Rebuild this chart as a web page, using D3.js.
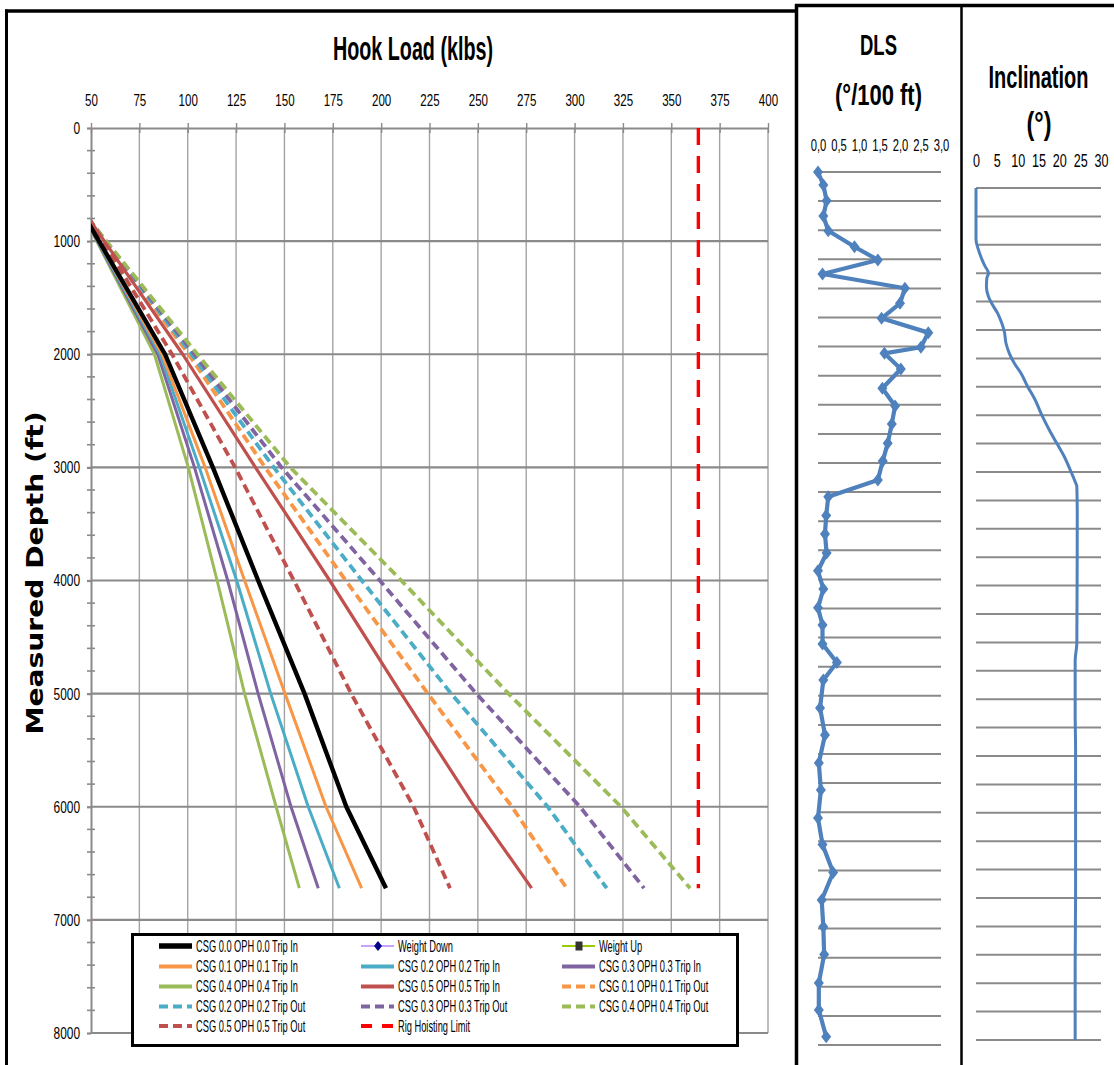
<!DOCTYPE html>
<html>
<head>
<meta charset="utf-8">
<script src="https://cdn.jsdelivr.net/npm/d3@7"></script>
<style>
  body { margin: 0; background: #fff; }
  svg { display: block; }
</style>
</head>
<body>
<div id="chart"></div>
<script>
// ---- hook load vs depth (klbs, ft) ----
const hookDepth = [800, 2000, 3000, 4000, 5000, 6000, 6720];
const csg00In  = [47.3, 88.3, 113.0, 136.4, 160.4, 182.0, 202.5];
const csg01In  = [47.2, 86.7, 109.0, 129.4, 150.3, 171.5, 189.9];
const csg02In  = [47.1, 85.7, 106.0, 125.3, 142.9, 162.3, 178.4];
const csg03In  = [47.0, 84.5, 103.5, 120.7, 136.4, 153.4, 167.5];
const csg04In  = [47.0, 82.8, 100.3, 115.2, 129.4, 145.7, 157.7];
const csg05In  = [48.8, 97.4, 135.0, 173.4, 210.4, 248.2, 277.8];
const csg01Out = [48.7, 100.5, 140.0, 181.7, 224.2, 267.6, 295.9];
const csg02Out = [48.6, 102.0, 144.5, 190.0, 236.2, 286.1, 316.6];
const csg03Out = [48.6, 103.5, 148.5, 199.3, 249.2, 302.8, 335.9];
const csg04Out = [48.5, 105.0, 153.0, 210.4, 265.8, 324.0, 359.7];
const csg05Out = [49.0, 91.9, 124.5, 154.9, 184.5, 216.8, 235.6];
const rigLimitDepth = [0, 6720];
const rigLimitLoad = [364, 364];

const hookTicks = [50, 75, 100, 125, 150, 175, 200, 225, 250, 275, 300, 325, 350, 375, 400];
const depthTicks = [0, 1000, 2000, 3000, 4000, 5000, 6000, 7000, 8000];

// ---- DLS survey (ft, deg/100ft) ----
const dlsDepth = [0, 100, 222, 340, 454, 578, 680, 789, 899, 1015, 1131, 1242, 1355, 1402, 1523,
  1672, 1809, 1948, 2098, 2234, 2381, 2511, 2656, 2799, 2946, 3083, 3224, 3370, 3503, 3649,
  3792, 3928, 4144, 4353, 4569, 4778, 4995, 5200, 5416, 5629, 5836, 6051, 6270, 6479, 6686];
const dlsValue = [0.0, 0.13, 0.21, 0.13, 0.25, 0.89, 1.46, 0.11, 2.12, 2.0, 1.55, 2.69, 2.51, 1.62, 2.02,
  1.57, 1.88, 1.80, 1.70, 1.58, 1.46, 0.25, 0.20, 0.17, 0.21, 0.0, 0.13, 0.0, 0.11, 0.11,
  0.46, 0.13, 0.05, 0.17, 0.02, 0.07, 0.0, 0.11, 0.37, 0.09, 0.13, 0.15, 0.02, 0.02, 0.20];
const dlsTicks = [0, 0.5, 1, 1.5, 2, 2.5, 3];

// ---- inclination (ft, deg) ----
const incDepth = [0, 410, 490, 610, 676, 715, 782, 861, 927, 993, 1072, 1138, 1230, 1310, 1389,
  1468, 1574, 1666, 1799, 1917, 2023, 2129, 2248, 2327, 2367, 2583, 3605, 3745, 4167, 4453,
  5586, 6148, 6750];
const incValue = [0, 0, 0.6, 2.0, 3.0, 2.6, 2.5, 3.0, 4.0, 5.2, 6.2, 6.8, 7.2, 8.0, 9.2,
  10.8, 12.4, 14.0, 15.8, 17.6, 19.4, 21.2, 22.8, 23.8, 24.2, 24.3, 24.2, 23.8, 23.8, 23.9,
  23.9, 23.8, 23.8];
const incTicks = [0, 5, 10, 15, 20, 25, 30];
const surveyGridDepth = d3.range(0, 6751, 225);

const FONT = "'Liberation Sans', Arial, sans-serif";

const svg = d3.select("#chart").append("svg")
  .attr("width", 1114)
  .attr("height", 1065);

// squeezed text helper (the source image is stretched vertically)
function label(g, x, y, str, size, anchor, sx, weight) {
  return g.append("text")
    .attr("transform", `translate(${x},${y}) scale(${sx},1)`)
    .attr("text-anchor", anchor)
    .style("font-family", FONT)
    .style("font-size", size + "px")
    .style("font-weight", weight || "normal")
    .style("fill", "#000")
    .text(str);
}

// bold title squeezed to a measured width
function title(g, x, y, str, size, len) {
  const t = g.append("text")
    .attr("text-anchor", "middle")
    .style("font-family", FONT)
    .style("font-size", size + "px")
    .style("font-weight", "bold")
    .style("fill", "#000")
    .text(str);
  const natural = t.node().getComputedTextLength() || len;
  t.attr("transform", `translate(${x},${y}) scale(${len / natural},1)`);
  return t;
}

// ================= Hook load chart =================
const plot = { left: 91, right: 768, top: 128, bottom: 1033 };
const x = d3.scaleLinear().domain([50, 400]).range([plot.left, plot.right]);
const y = d3.scaleLinear().domain([0, 8000]).range([plot.top, plot.bottom]);

const main = svg.append("g");

main.append("g").selectAll("line")
  .data(hookTicks.slice(1))
  .enter().append("line")
  .attr("x1", d => x(d)).attr("x2", d => x(d))
  .attr("y1", plot.top).attr("y2", plot.bottom)
  .style("stroke", "#a3a3a3")
  .style("stroke-width", 1.4);

main.append("g").selectAll("line")
  .data(depthTicks.slice(1))
  .enter().append("line")
  .attr("x1", plot.left).attr("x2", plot.right)
  .attr("y1", d => y(d)).attr("y2", d => y(d))
  .style("stroke", "#8a8a8a")
  .style("stroke-width", 2.2);

const xAxis = main.append("g")
  .attr("transform", `translate(0,${plot.top})`)
  .call(d3.axisTop(x).tickValues(hookTicks).tickSize(5).tickSizeOuter(0).tickPadding(17));
xAxis.select(".domain").style("stroke", "#8a8a8a").style("stroke-width", 2.2);
xAxis.selectAll(".tick line").style("stroke", "#8a8a8a").style("stroke-width", 1.4)
  .attr("y2", -5).attr("y1", 5);
xAxis.selectAll("text")
  .attr("transform", "scale(0.68,1)")
  .style("font-family", FONT).style("font-size", "17px").style("fill", "#000");

const yAxis = main.append("g")
  .attr("transform", `translate(${plot.left},0)`)
  .call(d3.axisLeft(y).tickValues(depthTicks).tickSize(4).tickSizeOuter(0)
    .tickFormat(d3.format("d")));
yAxis.select(".domain").style("stroke", "#8a8a8a").style("stroke-width", 2);
yAxis.selectAll(".tick line").style("stroke", "#8a8a8a").style("stroke-width", 2.2);
yAxis.selectAll("text")
  .attr("x", -11 / 0.7)
  .attr("transform", "scale(0.7,1)")
  .style("font-family", FONT).style("font-size", "17px").style("fill", "#000");

main.append("g").selectAll("line")
  .data(d3.range(200, 8000, 200).filter(d => d % 1000 !== 0))
  .enter().append("line")
  .attr("x1", plot.left - 4).attr("x2", plot.left + 4)
  .attr("y1", d => y(d)).attr("y2", d => y(d))
  .style("stroke", "#8a8a8a")
  .style("stroke-width", 1.6);

title(main, 413, 60, "Hook Load (klbs)", 34, 160);

main.append("text")
  .attr("transform", "translate(43,573) rotate(-90)")
  .attr("text-anchor", "middle")
  .attr("textLength", 323)
  .attr("lengthAdjust", "spacingAndGlyphs")
  .style("font-family", "'DejaVu Sans', Verdana, sans-serif")
  .style("font-size", "23px")
  .style("font-weight", "bold")
  .text("Measured Depth (ft)");

const series = [
  { name: "CSG 0.0 OPH 0.0 Trip In",  values: csg00In,  color: "#000000", dash: null,  width: 4.4 },
  { name: "CSG 0.1 OPH 0.1 Trip In",  values: csg01In,  color: "#f79646", dash: null,  width: 3 },
  { name: "CSG 0.2 OPH 0.2 Trip In",  values: csg02In,  color: "#4bacc6", dash: null,  width: 3 },
  { name: "CSG 0.3 OPH 0.3 Trip In",  values: csg03In,  color: "#8064a2", dash: null,  width: 3 },
  { name: "CSG 0.4 OPH 0.4 Trip In",  values: csg04In,  color: "#9bbb59", dash: null,  width: 3 },
  { name: "CSG 0.5 OPH 0.5 Trip In",  values: csg05In,  color: "#c0504d", dash: null,  width: 3.2 },
  { name: "CSG 0.1 OPH 0.1 Trip Out", values: csg01Out, color: "#f79646", dash: "9,5", width: 3.8 },
  { name: "CSG 0.2 OPH 0.2 Trip Out", values: csg02Out, color: "#4bacc6", dash: "9,5", width: 3.8 },
  { name: "CSG 0.3 OPH 0.3 Trip Out", values: csg03Out, color: "#8064a2", dash: "9,5", width: 3.8 },
  { name: "CSG 0.4 OPH 0.4 Trip Out", values: csg04Out, color: "#9bbb59", dash: "9,5", width: 3.8 },
  { name: "CSG 0.5 OPH 0.5 Trip Out", values: csg05Out, color: "#c0504d", dash: "9,5", width: 3.8 }
];

svg.append("clipPath").attr("id", "plot-clip")
  .append("rect")
  .attr("x", plot.left).attr("y", plot.top)
  .attr("width", plot.right - plot.left).attr("height", plot.bottom - plot.top);

const hookLine = d3.line().x(d => x(d.v)).y(d => y(d.d));
const lineGroup = main.append("g").attr("clip-path", "url(#plot-clip)");

// trip-out first, then solid ones, black on top
const drawOrder = [6, 7, 8, 9, 10, 5, 4, 3, 2, 1, 0];
drawOrder.forEach(i => {
  const s = series[i];
  lineGroup.append("path")
    .datum(hookDepth.map((d, j) => ({ d: d, v: s.values[j] })))
    .attr("d", hookLine)
    .style("fill", "none")
    .style("stroke", s.color)
    .style("stroke-width", s.width)
    .style("stroke-dasharray", s.dash)
    .style("stroke-linejoin", "round");
});

lineGroup.append("path")
  .datum(rigLimitDepth.map((d, j) => ({ d: d, v: rigLimitLoad[j] })))
  .attr("d", hookLine)
  .style("fill", "none")
  .style("stroke", "#ff0000")
  .style("stroke-width", 3.4)
  .style("stroke-dasharray", "17,11");

// legend
const legend = main.append("g");
legend.append("rect")
  .attr("x", 132.5).attr("y", 934.5)
  .attr("width", 605).attr("height", 111)
  .style("fill", "#fff")
  .style("stroke", "#000")
  .style("stroke-width", 3);

const legendItems = [
  series[0],
  { name: "Weight Down", color: "#c9a0ff", width: 2, marker: "diamond" },
  { name: "Weight Up", color: "#99cc00", width: 2, marker: "square" },
  series[1], series[2], series[3],
  series[4], series[5], series[6],
  series[7], series[8], series[9],
  series[10],
  { name: "Rig Hoisting Limit", color: "#ff0000", dash: "11,10", width: 3.4 }
];
const legendCols = [159, 361, 562];
const legendRows = [946, 966.5, 986.5, 1006.5, 1026];

legendItems.forEach((it, i) => {
  const cx = legendCols[i % 3];
  const cy = legendRows[Math.floor(i / 3)];
  legend.append("line")
    .attr("x1", cx).attr("x2", cx + 33)
    .attr("y1", cy).attr("y2", cy)
    .style("stroke", it.color)
    .style("stroke-width", it === series[0] ? 5.5 : (it.dash ? 4 : (it.marker ? 2 : 4)))
    .style("stroke-dasharray", it.dash || null);
  if (it.marker === "diamond") {
    legend.append("path")
      .attr("d", "M0,-5L4,0L0,5L-4,0Z")
      .attr("transform", `translate(${cx + 17},${cy})`)
      .style("fill", "#00008b");
  } else if (it.marker === "square") {
    legend.append("rect")
      .attr("x", cx + 13.5).attr("y", cy - 4.5)
      .attr("width", 7).attr("height", 9)
      .style("fill", "#333");
  }
  label(legend, cx + 37, cy + 5.5, it.name, 16, "start", 0.58);
});

// ================= DLS panel =================
const xD = d3.scaleLinear().domain([0, 3]).range([818, 941]);
const yD = d3.scaleLinear().domain([0, 6750]).range([172, 1045]);
const dls = svg.append("g");

dls.append("g").selectAll("line")
  .data(surveyGridDepth)
  .enter().append("line")
  .attr("x1", xD(0)).attr("x2", xD(3))
  .attr("y1", d => yD(d)).attr("y2", d => yD(d))
  .style("stroke", "#8a8a8a")
  .style("stroke-width", 2);

const dAxis = dls.append("g")
  .attr("transform", `translate(0,${yD(0)})`)
  .call(d3.axisTop(xD).tickValues(dlsTicks).tickSize(0).tickPadding(21)
    .tickFormat(d => d.toFixed(1).replace(".", ",")));
dAxis.select(".domain").remove();
dAxis.selectAll("text")
  .attr("transform", "scale(0.66,1)")
  .style("font-family", FONT).style("font-size", "17px").style("fill", "#000");

title(dls, 878.5, 55, "DLS", 29, 37);
title(dls, 878.5, 105, "(°/100 ft)", 29, 87);

const dlsPts = dlsDepth.map((d, i) => ({ d: d, v: dlsValue[i] }));
dls.append("path")
  .datum(dlsPts)
  .attr("d", d3.line().x(d => xD(d.v)).y(d => yD(d.d)))
  .style("fill", "none")
  .style("stroke", "#4f81bd")
  .style("stroke-width", 4.2)
  .style("stroke-linejoin", "round");

dls.append("g").selectAll("path")
  .data(dlsPts)
  .enter().append("path")
  .attr("d", "M0,-6.5L5,0L0,6.5L-5,0Z")
  .attr("transform", d => `translate(${xD(d.v)},${yD(d.d)})`)
  .style("fill", "#4f81bd");

// ================= Inclination panel =================
const xI = d3.scaleLinear().domain([0, 30]).range([976, 1101]);
const yI = d3.scaleLinear().domain([0, 6750]).range([188, 1040]);
const inc = svg.append("g");

inc.append("g").selectAll("line")
  .data(surveyGridDepth)
  .enter().append("line")
  .attr("x1", xI(0)).attr("x2", xI(30))
  .attr("y1", d => yI(d)).attr("y2", d => yI(d))
  .style("stroke", "#8a8a8a")
  .style("stroke-width", 2);

const iAxis = inc.append("g")
  .attr("transform", `translate(0,${yI(0)})`)
  .call(d3.axisTop(xI).tickValues(incTicks).tickSize(0).tickPadding(21));
iAxis.select(".domain").remove();
iAxis.selectAll("text")
  .attr("transform", "scale(0.7,1)")
  .style("font-family", FONT).style("font-size", "18px").style("fill", "#000");

title(inc, 1038.5, 88, "Inclination", 32, 100);
title(inc, 1039, 134, "(°)", 32, 25);

inc.append("path")
  .datum(incDepth.map((d, i) => ({ d: d, v: incValue[i] })))
  .attr("d", d3.line().curve(d3.curveMonotoneY).x(d => xI(d.v)).y(d => yI(d.d)))
  .style("fill", "none")
  .style("stroke", "#4f81bd")
  .style("stroke-width", 3);

// ================= frames =================
const frame = svg.append("g").style("stroke", "#000");
frame.append("line").attr("x1", 5).attr("x2", 797).attr("y1", 11).attr("y2", 11).style("stroke-width", 3.5);
frame.append("line").attr("x1", 6.5).attr("x2", 6.5).attr("y1", 9.5).attr("y2", 1065).style("stroke-width", 3);
frame.append("line").attr("x1", 795).attr("x2", 1114).attr("y1", 5.5).attr("y2", 5.5).style("stroke-width", 3.5);
frame.append("line").attr("x1", 796.5).attr("x2", 796.5).attr("y1", 4).attr("y2", 1065).style("stroke-width", 3.5);
frame.append("line").attr("x1", 961.5).attr("x2", 961.5).attr("y1", 4).attr("y2", 1065).style("stroke-width", 2.5);
</script>
</body>
</html>
